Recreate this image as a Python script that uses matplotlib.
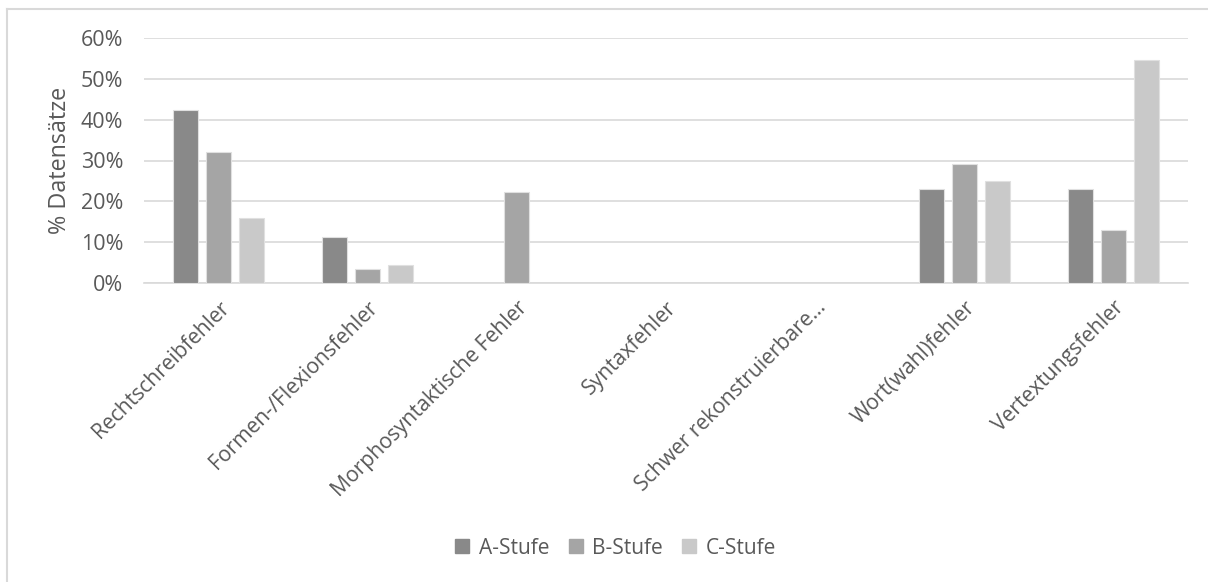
import matplotlib
matplotlib.use("Agg")
import matplotlib.pyplot as plt
import numpy as np
from matplotlib.lines import Line2D

categories = ["Rechtschreibfehler", "Formen-/Flexionsfehler", "Morphosyntaktische Fehler",
              "Syntaxfehler", "Schwer rekonstruierbare…", "Wort(wahl)fehler", "Vertextungsfehler"]
a_stufe = [42.4, 11.3, 0.0, 0.0, 0.0, 23.0, 23.0]
b_stufe = [32.2, 3.4, 22.4, 0.0, 0.0, 29.2, 13.1]
c_stufe = [15.9, 4.5, 0.0, 0.0, 0.0, 24.9, 54.5]
series_names = ["A-Stufe", "B-Stufe", "C-Stufe"]
yticks = [0, 10, 20, 30, 40, 50, 60]

plt.rcParams['font.family'] = ['Open Sans', 'DejaVu Sans']
W, H = 1208, 582
fig = plt.figure(figsize=(W / 100, H / 100), dpi=100)
ax = fig.add_axes([144 / W, 1 - 283 / H, (1188 - 144) / W, (283 - 38) / H])

colors = ["#898989", "#a5a5a5", "#c9c9c9"]
x = np.arange(len(categories))
bw = 25 / 149
off = 33 / 149
for i, (vals, c, n) in enumerate(zip([a_stufe, b_stufe, c_stufe], colors, series_names)):
    ax.bar(x + (i - 1) * off, vals, width=bw, color=c, edgecolor="#e0e0e0", linewidth=0.8,
           label=n, zorder=3)

ax.set_xlim(-0.5, len(categories) - 0.5)
ax.set_ylim(0, 60)
ax.set_yticks(yticks)
ax.set_yticklabels([f"{t}%" for t in yticks], fontsize=15.5, color="#595959")
ax.yaxis.grid(True, color="#d9d9d9", linewidth=1.2, zorder=0)
ax.tick_params(axis="both", length=0)
ax.tick_params(axis="y", pad=15)
for s in ["top", "right", "left"]:
    ax.spines[s].set_visible(False)
ax.spines["bottom"].set_color("#d9d9d9")
ax.spines["bottom"].set_linewidth(1.2)

ax.set_xticks(x)
ax.set_xticklabels(categories, rotation=45, ha="right", va="top", rotation_mode="anchor",
                   fontsize=15.2, color="#595959")
ax.tick_params(axis="x", pad=10)
ax.set_ylabel("% Datensätze", fontsize=16.8, color="#595959", labelpad=6)

handles = [Line2D([0], [0], marker="s", linestyle="none", markersize=9.5, markerfacecolor=c,
                  markeredgecolor=c) for c in colors]
fig.legend(handles, series_names, loc="center", bbox_to_anchor=(614 / W, 1 - 548 / H),
           ncol=3, frameon=False, fontsize=15, labelcolor="#595959",
           handletextpad=0.3, columnspacing=0.75, handlelength=1.0)

fig.add_artist(Line2D([7 / W, 7 / W], [0, 1 - 9 / H], transform=fig.transFigure,
                      color="#d9d9d9", linewidth=1.5))
fig.add_artist(Line2D([7 / W, 1], [1 - 9 / H, 1 - 9 / H], transform=fig.transFigure,
                      color="#d9d9d9", linewidth=1.5))

fig.savefig("out.png", dpi=100, facecolor="white")
